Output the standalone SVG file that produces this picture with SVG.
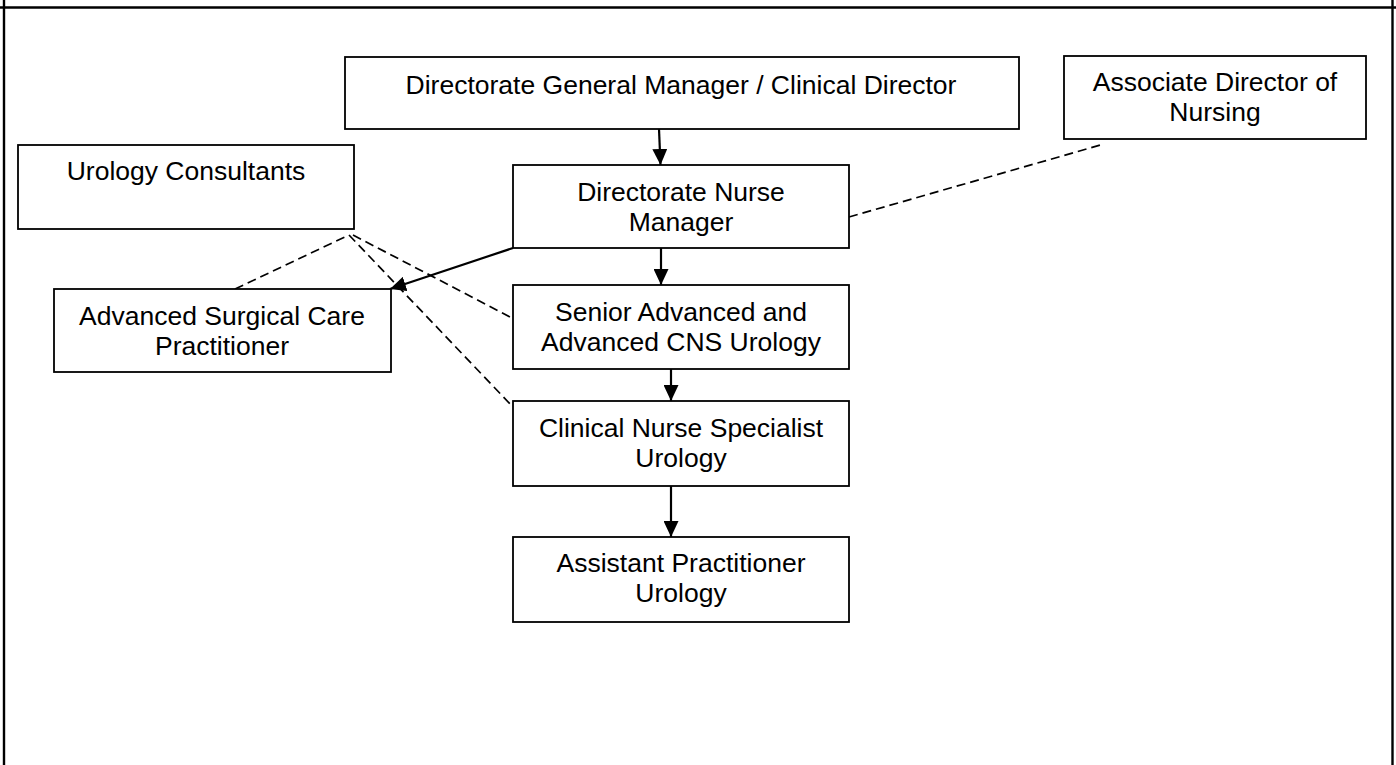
<svg xmlns="http://www.w3.org/2000/svg" width="1396" height="765" viewBox="0 0 1396 765">
<style>
.box{fill:#fff;stroke:#000;stroke-width:1.8}
.t{font-family:"Liberation Sans",Arial,sans-serif;font-size:26.5px;fill:#000;text-anchor:middle}
.solid{stroke:#000;stroke-width:2.2;fill:none}
.dash{stroke:#000;stroke-width:1.7;fill:none;stroke-dasharray:9 5}
.frame{stroke:#000;stroke-width:2.4;fill:none}
</style>
<defs>
<marker id="ah" viewBox="0 0 16 15" refX="16" refY="7.5" markerWidth="16" markerHeight="15" markerUnits="userSpaceOnUse" orient="auto">
<path d="M0,0 L16,7.5 L0,15 z" fill="#000"/>
</marker>
</defs>
<rect width="1396" height="765" fill="#fff"/>
<g id="frame">
<line class="frame" x1="0" y1="7.5" x2="1396" y2="7.5"/>
<line class="frame" x1="4" y1="0" x2="4" y2="765"/>
<line class="frame" x1="1392.5" y1="0" x2="1392.5" y2="765"/>
</g>
<g id="connectors">
<line class="solid" x1="659" y1="129" x2="660.5" y2="165" marker-end="url(#ah)"/>
<line class="solid" x1="661" y1="248" x2="661" y2="285" marker-end="url(#ah)"/>
<line class="solid" x1="671" y1="369" x2="671" y2="401" marker-end="url(#ah)"/>
<line class="solid" x1="671" y1="486" x2="671" y2="537" marker-end="url(#ah)"/>
<line class="solid" x1="513" y1="248" x2="390" y2="289" marker-end="url(#ah)"/>
<line class="dash" x1="849" y1="217" x2="1104" y2="144"/>
<line class="dash" x1="235" y1="289" x2="347" y2="236"/>
<line class="dash" x1="353" y1="235" x2="512" y2="318"/>
<line class="dash" x1="349" y1="235" x2="512" y2="406"/>
</g>
<g id="n-dgm">
<rect class="box" x="345" y="57" width="674" height="72"/>
<text class="t" x="681" y="94">Directorate General Manager / Clinical Director</text>
</g>
<g id="n-adn">
<rect class="box" x="1064" y="56" width="302" height="83"/>
<text class="t" x="1215" y="91">Associate Director of</text>
<text class="t" x="1215" y="121">Nursing</text>
</g>
<g id="n-uc">
<rect class="box" x="18" y="145" width="336" height="84"/>
<text class="t" x="186" y="180">Urology Consultants</text>
</g>
<g id="n-dnm">
<rect class="box" x="513" y="165" width="336" height="83"/>
<text class="t" x="681" y="201">Directorate Nurse</text>
<text class="t" x="681" y="231">Manager</text>
</g>
<g id="n-ascp">
<rect class="box" x="54" y="289" width="337" height="83"/>
<text class="t" x="222" y="325">Advanced Surgical Care</text>
<text class="t" x="222" y="355">Practitioner</text>
</g>
<g id="n-senior">
<rect class="box" x="513" y="285" width="336" height="84"/>
<text class="t" x="681" y="321">Senior Advanced and</text>
<text class="t" x="681" y="351">Advanced CNS Urology</text>
</g>
<g id="n-cns">
<rect class="box" x="513" y="401" width="336" height="85"/>
<text class="t" x="681" y="437">Clinical Nurse Specialist</text>
<text class="t" x="681" y="467">Urology</text>
</g>
<g id="n-apu">
<rect class="box" x="513" y="537" width="336" height="85"/>
<text class="t" x="681" y="572">Assistant Practitioner</text>
<text class="t" x="681" y="602">Urology</text>
</g>
</svg>
